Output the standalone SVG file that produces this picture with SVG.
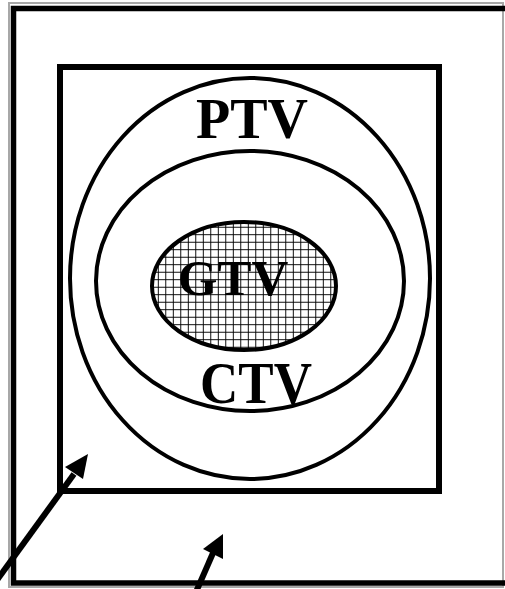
<svg xmlns="http://www.w3.org/2000/svg" width="505" height="589" viewBox="0 0 505 589">
<style>
.lbl{font-family:"Liberation Serif","Times New Roman",serif;font-weight:bold;fill:#000}
.ell{fill:none;stroke:#000;stroke-width:4}
.conn{stroke:#000;stroke-width:6;fill:none}
</style>
<defs>
<pattern id="grid" x="155" y="223" width="7.5" height="7.5" patternUnits="userSpaceOnUse">
<path d="M3.5 0V7.5M0 4H7.5" stroke="#000" stroke-width="1" fill="none" shape-rendering="crispEdges"/>
</pattern>
</defs>
<rect width="505" height="589" fill="#fff"/>
<g id="frame">
<rect x="9" y="3" width="494" height="584" fill="none" stroke="#a8a8a8" stroke-width="2"/>
<rect x="13.5" y="8.5" width="500" height="574.5" fill="none" stroke="#000" stroke-width="5.5"/>
</g>
<g id="inner-box">
<rect x="60" y="67" width="379" height="424" fill="none" stroke="#000" stroke-width="6"/>
</g>
<g id="ptv">
<ellipse class="ell" cx="250" cy="278.5" rx="180" ry="200.5"/>
<text class="lbl" x="252" y="138" font-size="56" text-anchor="middle">PTV</text>
</g>
<g id="ctv">
<ellipse class="ell" cx="250" cy="281" rx="154" ry="130"/>
<text class="lbl" x="256" y="403" font-size="53" text-anchor="middle" transform="translate(0,403) scale(1,1.1) translate(0,-403)">CTV</text>
</g>
<g id="gtv">
<ellipse cx="244" cy="286" rx="92" ry="64" fill="url(#grid)" stroke="#000" stroke-width="4"/>
<text class="lbl" x="233" y="295" font-size="51" text-anchor="middle">GTV</text>
</g>
<g id="connectors">
<line class="conn" x1="-3" y1="580" x2="74" y2="474"/>
<polygon points="88,454 65,467 83,479" fill="#000"/>
<line class="conn" x1="196" y1="592" x2="213" y2="553"/>
<polygon points="223,534 203,549 223,559" fill="#000"/>
</g>
</svg>
